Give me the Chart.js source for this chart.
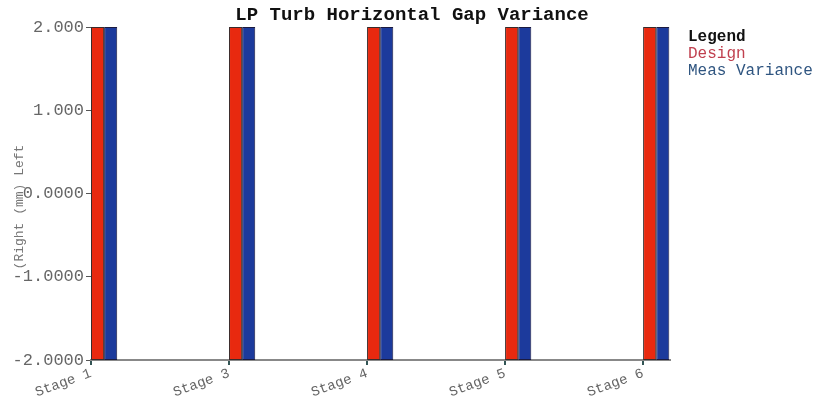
<!DOCTYPE html>
<html>
<head>
<meta charset="utf-8">
<script src="https://cdn.jsdelivr.net/npm/chart.js@4/dist/chart.umd.min.js"></script>
<style>
html,body{margin:0;padding:0;background:#fff;}
#wrap{width:824px;height:405px;position:relative;}
</style>
</head>
<body>
<div id="wrap"><canvas id="c" width="824" height="405"></canvas></div>
<script>
const chartTitle = 'LP Turb Horizontal Gap Variance';
const yAxisTitle = '(Right (mm) Left';
const legendTitle = 'Legend';
const categories = ['Stage 1', 'Stage 3', 'Stage 4', 'Stage 5', 'Stage 6'];
const seriesNames = ['Design', 'Meas Variance'];
const designLow = [-2, -2, -2, -2, -2];
const designHigh = [2, 2, 2, 2, 2];
const measLow = [-2, -2, -2, -2, -2];
const measHigh = [2, 2, 2, 2, 2];
const yTickValues = [-2, -1, 0, 1, 2];
const yTickLabels = ['-2.0000', '-1.0000', '0.0000', '1.000', '2.000'];

const GROUP = 0.19;          // share of a category slot taken by the bar pair
const HALF = GROUP / 2;

function pts(lo, hi) { return categories.map((c, i) => ({ x: i, y: [lo[i], hi[i]] })); }

const mono = '"Liberation Mono", "DejaVu Sans Mono", monospace';

const overlay = {
  id: 'overlay',
  afterDraw(chart) {
    const ctx = chart.ctx;
    ctx.save();
    ctx.textBaseline = 'middle';
    ctx.textAlign = 'center';
    ctx.fillStyle = '#111';
    ctx.font = 'bold 19px ' + mono;
    ctx.fillText(chartTitle, 412, 15);
    ctx.textAlign = 'left';
    ctx.font = 'bold 16px ' + mono;
    ctx.fillStyle = '#111';
    ctx.fillText(legendTitle, 688, 37);
    ctx.font = '16px ' + mono;
    ctx.fillStyle = '#c0404f';
    ctx.fillText(seriesNames[0], 688, 54);
    ctx.fillStyle = '#2f5580';
    ctx.fillText(seriesNames[1], 688, 71);
    // y axis title
    ctx.save();
    ctx.translate(20, 207);
    ctx.rotate(-Math.PI / 2);
    ctx.textAlign = 'center';
    ctx.font = '13px ' + mono;
    ctx.fillStyle = '#777';
    ctx.fillText(yAxisTitle, 0, 0);
    ctx.restore();
    ctx.restore();
  }
};

new Chart(document.getElementById('c'), {
  type: 'bar',
  data: {
    datasets: [
      { label: seriesNames[0], data: pts(designLow, designHigh), backgroundColor: '#e8290f', borderColor: '#3a2a2a', borderWidth: 1, borderSkipped: false },
      { label: seriesNames[1], data: pts(measLow, measHigh), backgroundColor: '#1c3a9c', borderColor: '#1a1a40', borderWidth: 1, borderSkipped: false }
    ]
  },
  options: {
    responsive: false,
    animation: false,
    layout: { padding: { top: 27, right: 154, left: 0, bottom: 0 } },
    datasets: { bar: { categoryPercentage: GROUP, barPercentage: 1 } },
    plugins: { legend: { display: false }, tooltip: { enabled: false }, title: { display: false } },
    scales: {
      x: {
        type: 'linear',
        offset: false,
        min: -HALF,
        max: 4.10,
        afterBuildTicks(scale) { scale.ticks = categories.map((c, i) => ({ value: i - HALF })); },
        afterFit(scale) { scale.height = 45; },
        grid: { display: true, offset: false, drawOnChartArea: false, tickLength: 5, color: '#335555', lineWidth: 2 },
        border: { display: true, color: '#888', width: 2 },
        ticks: {
          autoSkip: false, minRotation: 20, maxRotation: 20, padding: 0,
          color: '#666', font: { family: mono, size: 14 },
          callback: (v, i) => categories[i]
        }
      },
      y: {
        min: -2, max: 2,
        afterBuildTicks(scale) { scale.ticks = yTickValues.map(v => ({ value: v })); },
        afterFit(scale) { scale.width = 91; },
        grid: { display: true, drawOnChartArea: false, tickLength: 5, color: '#555', lineWidth: 1 },
        border: { display: true, color: '#888', width: 1 },
        ticks: {
          padding: 2, color: '#666', font: { family: mono, size: 17 },
          callback: (v) => yTickLabels[yTickValues.indexOf(v)]
        }
      }
    }
  },
  plugins: [overlay]
});
</script>
</body>
</html>
